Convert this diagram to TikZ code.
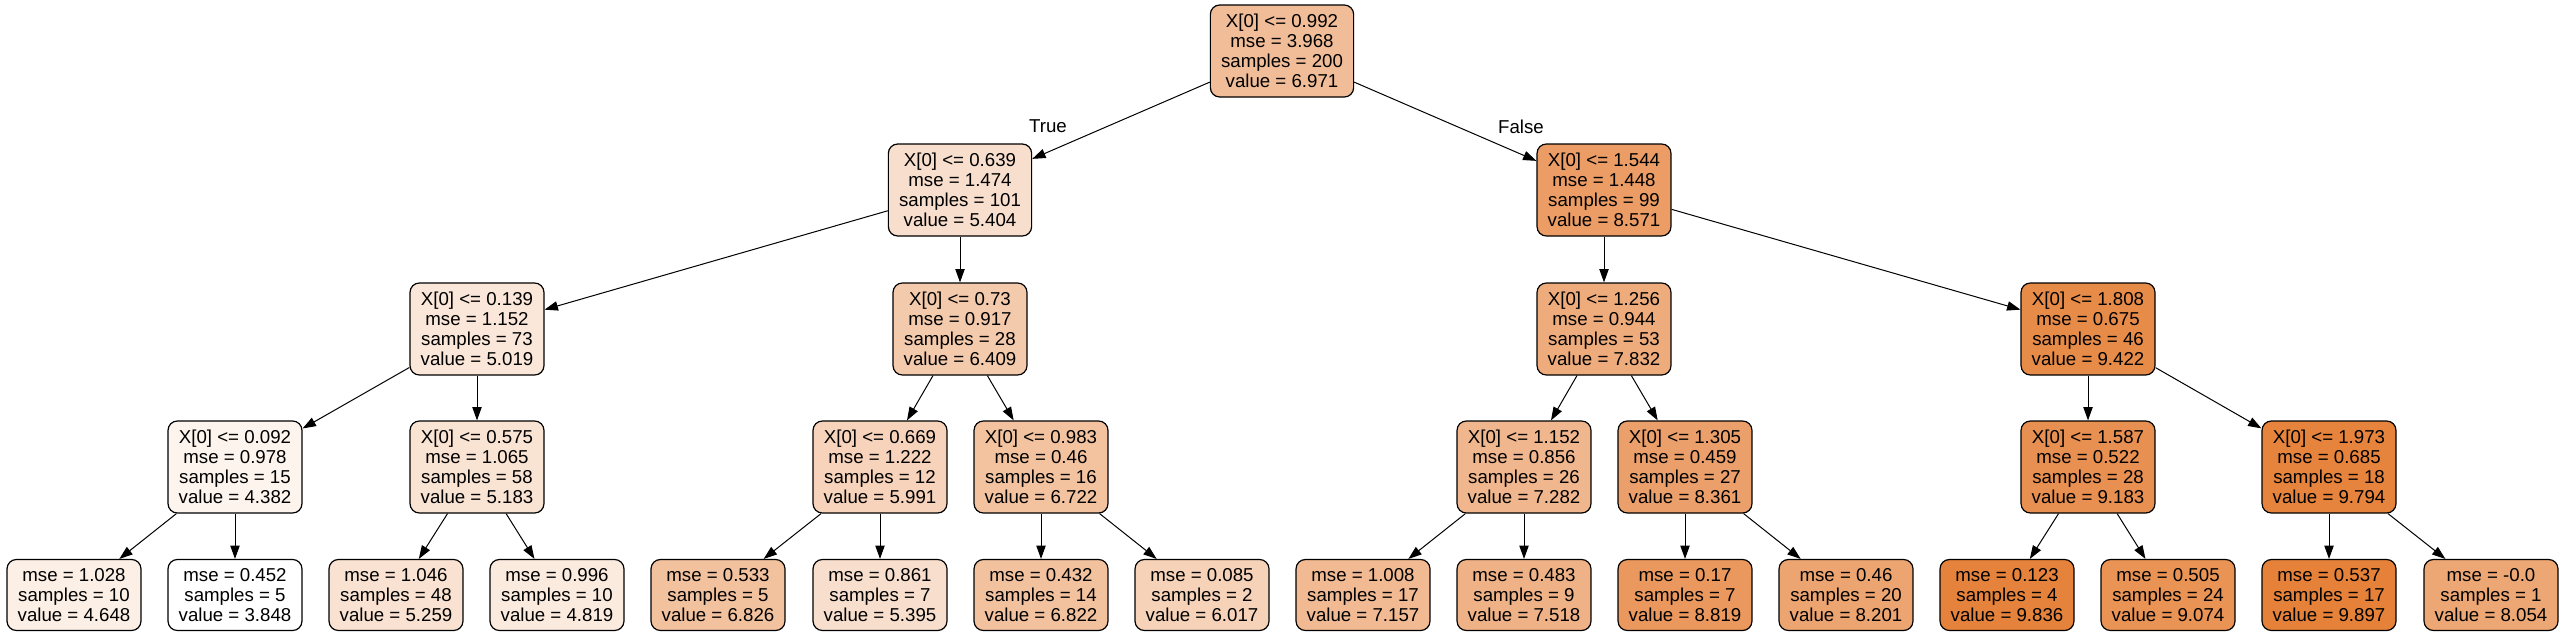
\documentclass[tikz,border=0pt]{standalone}
\usepackage{fontspec}
\setmainfont{Liberation Sans}
\usetikzlibrary{arrows.meta}
\definecolor{treeorange}{RGB}{229,129,57}

\begin{document}
\begin{tikzpicture}[x=0.75pt, y=-0.75pt,
  every node/.style={font=\fontsize{14}{15}\selectfont},
  splitbox/.style={draw, line width=0.9pt, rounded corners=7pt, align=center,
    fill=treeorange!#1, inner xsep=8pt, inner ysep=2pt, minimum height=69pt},
  leafbox/.style={splitbox=#1, minimum height=53.25pt},
  link/.style={-{Triangle[length=10pt,width=7pt]}, line width=0.75pt}]
\useasboundingbox (0,0) rectangle (2565,636);
\node [splitbox=52] (root) at (1282,51) {X[0] <= 0.992\\mse = 3.968\\samples = 200\\value = 6.971};
\node [splitbox=26] (l) at (960,190) {X[0] <= 0.639\\mse = 1.474\\samples = 101\\value = 5.404};
\node [splitbox=78] (r) at (1604,190) {X[0] <= 1.544\\mse = 1.448\\samples = 99\\value = 8.571};
\node [splitbox=19] (ll) at (477,329) {X[0] <= 0.139\\mse = 1.152\\samples = 73\\value = 5.019};
\node [splitbox=42] (lr) at (960,329) {X[0] <= 0.73\\mse = 0.917\\samples = 28\\value = 6.409};
\node [splitbox=66] (rl) at (1604,329) {X[0] <= 1.256\\mse = 0.944\\samples = 53\\value = 7.832};
\node [splitbox=92] (rr) at (2088,329) {X[0] <= 1.808\\mse = 0.675\\samples = 46\\value = 9.422};
\node [splitbox=9] (lll) at (235,467) {X[0] <= 0.092\\mse = 0.978\\samples = 15\\value = 4.382};
\node [splitbox=22] (llr) at (477,467) {X[0] <= 0.575\\mse = 1.065\\samples = 58\\value = 5.183};
\node [splitbox=35] (lrl) at (880,467) {X[0] <= 0.669\\mse = 1.222\\samples = 12\\value = 5.991};
\node [splitbox=48] (lrr) at (1041,467) {X[0] <= 0.983\\mse = 0.46\\samples = 16\\value = 6.722};
\node [splitbox=57] (rll) at (1524,467) {X[0] <= 1.152\\mse = 0.856\\samples = 26\\value = 7.282};
\node [splitbox=75] (rlr) at (1685,467) {X[0] <= 1.305\\mse = 0.459\\samples = 27\\value = 8.361};
\node [splitbox=88] (rrl) at (2088,467) {X[0] <= 1.587\\mse = 0.522\\samples = 28\\value = 9.183};
\node [splitbox=98] (rrr) at (2329,467) {X[0] <= 1.973\\mse = 0.685\\samples = 18\\value = 9.794};
\node [leafbox=13] (llll) at (74,595) {mse = 1.028\\samples = 10\\value = 4.648};
\node [leafbox=0] (lllr) at (235,595) {mse = 0.452\\samples = 5\\value = 3.848};
\node [leafbox=23] (llrl) at (396,595) {mse = 1.046\\samples = 48\\value = 5.259};
\node [leafbox=16] (llrr) at (557,595) {mse = 0.996\\samples = 10\\value = 4.819};
\node [leafbox=49] (lrll) at (718,595) {mse = 0.533\\samples = 5\\value = 6.826};
\node [leafbox=26] (lrlr) at (880,595) {mse = 0.861\\samples = 7\\value = 5.395};
\node [leafbox=49] (lrrl) at (1041,595) {mse = 0.432\\samples = 14\\value = 6.822};
\node [leafbox=36] (lrrr) at (1202,595) {mse = 0.085\\samples = 2\\value = 6.017};
\node [leafbox=55] (rlll) at (1363,595) {mse = 1.008\\samples = 17\\value = 7.157};
\node [leafbox=61] (rllr) at (1524,595) {mse = 0.483\\samples = 9\\value = 7.518};
\node [leafbox=82] (rlrl) at (1685,595) {mse = 0.17\\samples = 7\\value = 8.819};
\node [leafbox=72] (rlrr) at (1846,595) {mse = 0.46\\samples = 20\\value = 8.201};
\node [leafbox=99] (rrll) at (2007,595) {mse = 0.123\\samples = 4\\value = 9.836};
\node [leafbox=86] (rrlr) at (2168,595) {mse = 0.505\\samples = 24\\value = 9.074};
\node [leafbox=100] (rrrl) at (2329,595) {mse = 0.537\\samples = 17\\value = 9.897};
\node [leafbox=70] (rrrr) at (2491,595) {mse = -0.0\\samples = 1\\value = 8.054};
\node (true) at (1048,126) {True};
\node (false) at (1521,127) {False};
\draw[link] (root) -- (l);
\draw[link] (root) -- (r);
\draw[link] (l) -- (ll);
\draw[link] (l) -- (lr);
\draw[link] (r) -- (rl);
\draw[link] (r) -- (rr);
\draw[link] (ll) -- (lll);
\draw[link] (ll) -- (llr);
\draw[link] (lr) -- (lrl);
\draw[link] (lr) -- (lrr);
\draw[link] (rl) -- (rll);
\draw[link] (rl) -- (rlr);
\draw[link] (rr) -- (rrl);
\draw[link] (rr) -- (rrr);
\draw[link] (lll) -- (llll);
\draw[link] (lll) -- (lllr);
\draw[link] (llr) -- (llrl);
\draw[link] (llr) -- (llrr);
\draw[link] (lrl) -- (lrll);
\draw[link] (lrl) -- (lrlr);
\draw[link] (lrr) -- (lrrl);
\draw[link] (lrr) -- (lrrr);
\draw[link] (rll) -- (rlll);
\draw[link] (rll) -- (rllr);
\draw[link] (rlr) -- (rlrl);
\draw[link] (rlr) -- (rlrr);
\draw[link] (rrl) -- (rrll);
\draw[link] (rrl) -- (rrlr);
\draw[link] (rrr) -- (rrrl);
\draw[link] (rrr) -- (rrrr);
\end{tikzpicture}
\end{document}
